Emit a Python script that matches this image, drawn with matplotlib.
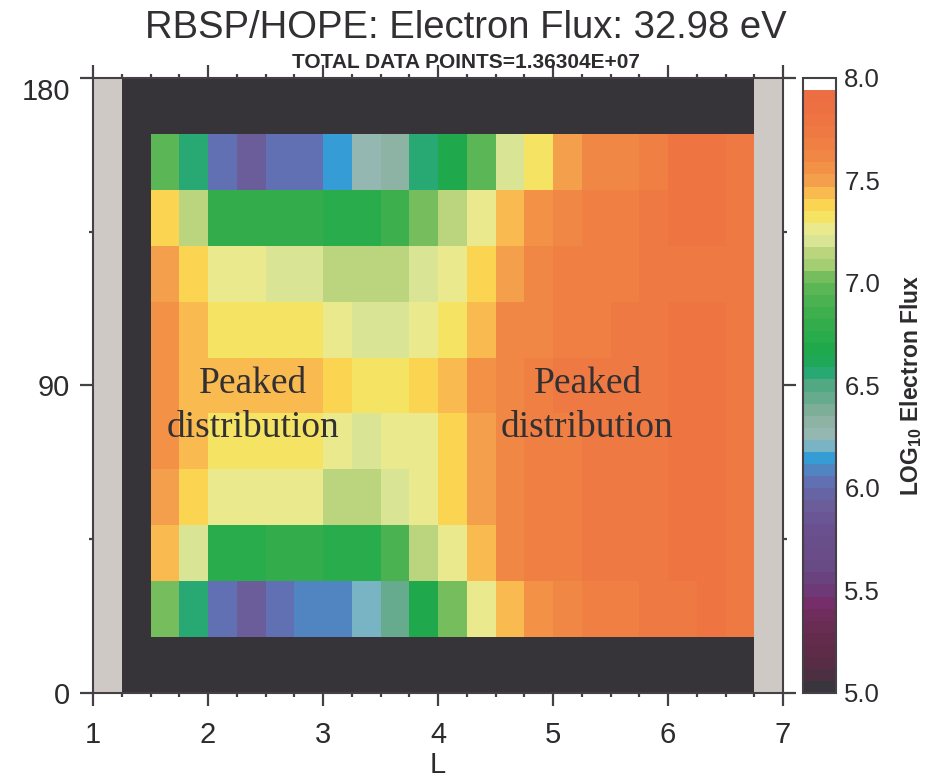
import numpy as np
import matplotlib
matplotlib.use("Agg")
import matplotlib.pyplot as plt
from matplotlib.colors import LinearSegmentedColormap, ListedColormap, Normalize

plt.rcParams['font.family'] = ['Liberation Sans', 'DejaVu Sans']
plt.rcParams['mathtext.fontset'] = 'custom'
plt.rcParams['mathtext.bf'] = 'Liberation Sans:bold'
plt.rcParams['mathtext.rm'] = 'Liberation Sans:bold'

# L-shell bin edges (0.25 wide) and pitch angle bin edges (180/11 wide)
L_edges = [1.25, 1.5, 1.75, 2.0, 2.25, 2.5, 2.75, 3.0, 3.25, 3.5, 3.75, 4.0,
           4.25, 4.5, 4.75, 5.0, 5.25, 5.5, 5.75, 6.0, 6.25, 6.5, 6.75]
pa_edges = [0.0, 16.36, 32.73, 49.09, 65.45, 81.82, 98.18, 114.55, 130.91,
            147.27, 163.64, 180.0]

# log10 electron flux, rows from top (high pitch angle) to bottom,
# columns L = 1.5 ... 6.75 (first L bin 1.25-1.5 and outer PA bins are empty)
flux_rows = [
    [6.95, 6.55, 6.00, 5.90, 6.02, 6.05, 6.15, 6.25, 6.35, 6.55, 6.65, 6.95, 7.20, 7.35, 7.50, 7.60, 7.62, 7.70, 7.80, 7.82, 7.72],
    [7.40, 7.15, 6.78, 6.78, 6.78, 6.78, 6.75, 6.75, 6.85, 7.02, 7.13, 7.26, 7.43, 7.56, 7.64, 7.68, 7.70, 7.73, 7.78, 7.80, 7.72],
    [7.48, 7.40, 7.25, 7.24, 7.23, 7.21, 7.15, 7.15, 7.16, 7.20, 7.27, 7.40, 7.50, 7.60, 7.65, 7.68, 7.70, 7.73, 7.76, 7.76, 7.72],
    [7.55, 7.47, 7.34, 7.34, 7.34, 7.33, 7.26, 7.21, 7.23, 7.26, 7.33, 7.47, 7.60, 7.63, 7.68, 7.70, 7.72, 7.74, 7.77, 7.80, 7.72],
    [7.55, 7.47, 7.45, 7.45, 7.46, 7.46, 7.40, 7.34, 7.34, 7.39, 7.46, 7.55, 7.64, 7.68, 7.71, 7.72, 7.74, 7.76, 7.78, 7.80, 7.72],
    [7.55, 7.47, 7.34, 7.34, 7.34, 7.34, 7.26, 7.21, 7.25, 7.27, 7.40, 7.50, 7.63, 7.68, 7.70, 7.72, 7.74, 7.76, 7.78, 7.80, 7.72],
    [7.48, 7.39, 7.25, 7.24, 7.25, 7.25, 7.13, 7.12, 7.20, 7.25, 7.39, 7.50, 7.62, 7.68, 7.70, 7.72, 7.73, 7.76, 7.78, 7.80, 7.72],
    [7.46, 7.20, 6.75, 6.75, 6.82, 6.78, 6.75, 6.75, 6.93, 7.14, 7.28, 7.46, 7.62, 7.68, 7.70, 7.72, 7.73, 7.75, 7.77, 7.80, 7.72],
    [7.02, 6.55, 6.00, 5.90, 6.03, 6.06, 6.10, 6.23, 6.45, 6.65, 7.02, 7.27, 7.46, 7.55, 7.63, 7.68, 7.70, 7.72, 7.76, 7.80, 7.72],
]

x_ticks = [1, 2, 3, 4, 5, 6, 7]
y_ticks = [0, 90, 180]
cbar_ticks = [5.0, 5.5, 6.0, 6.5, 7.0, 7.5, 8.0]

# colour table (value, colour)
ct_values = [5.00, 5.05, 5.10, 5.25, 5.35, 5.45, 5.50, 5.60, 5.80, 5.90, 6.00,
             6.05, 6.10, 6.15, 6.20, 6.25, 6.35, 6.45, 6.50, 6.55, 6.65, 6.75,
             6.85, 6.95, 7.02, 7.10, 7.15, 7.20, 7.25, 7.30, 7.34, 7.40, 7.46,
             7.50, 7.55, 7.62, 7.70, 7.80, 7.90, 8.00]
ct_colors = ['#38343c', '#3a363e', '#562c42', '#622c4c', '#6c2d58', '#762e6c',
             '#6c3c78', '#684a84', '#6a5090', '#6a5c98', '#6468ac', '#5c78b8',
             '#4a8cc8', '#30a0d8', '#78b4c4', '#96b8b4', '#88b09c', '#60aa8c',
             '#56a884', '#2aa878', '#1aa84c', '#2aac4c', '#3cae4c', '#52b454',
             '#6aba58', '#a8d074', '#b8d47c', '#d4e292', '#e8ea9c', '#ece878',
             '#f8e25c', '#fcd050', '#f8b450', '#f4a04c', '#f49448', '#f08844',
             '#f07c44', '#ee7442', '#ec6e42', '#ec6c40']

vmin, vmax = 5.0, 8.0
nlev = 51
base = LinearSegmentedColormap.from_list(
    'hope', [((v - vmin) / (vmax - vmin), c) for v, c in zip(ct_values, ct_colors)])
centers = (np.arange(nlev) + 0.5) / nlev
cols = base(centers)
cols[-1] = [1.0, 1.0, 1.0, 1.0]
cmap = ListedColormap(cols)
dark = '#363438'
cmap.set_bad(dark)

# pad the data: empty first L bin and empty outermost pitch angle bins
flux = np.full((len(pa_edges) - 1, len(L_edges) - 1), np.nan)
flux[1:-1, 1:] = np.flipud(np.array(flux_rows))
flux = np.ma.masked_invalid(flux)

W, H = 933, 784
fig = plt.figure(figsize=(W / 100, H / 100), dpi=100)
ax = fig.add_axes([93 / W, 91 / H, 690 / W, 615 / H])
cax = fig.add_axes([803 / W, 91 / H, 33 / W, 615 / H])

ax.set_facecolor('#cfc9c5')
mesh = ax.pcolormesh(L_edges, pa_edges, flux, cmap=cmap,
                     norm=Normalize(vmin, vmax), shading='flat',
                     linewidth=0, antialiased=False)

ax.set_xlim(1, 7)
ax.set_ylim(0, 180)
ax.set_xticks(x_ticks)
ax.set_xticks(np.arange(1, 7.01, 0.25), minor=True)
ax.set_yticks(y_ticks)
ax.set_yticks([45, 135], minor=True)
ax.set_yticklabels([str(t) for t in y_ticks])

spine_col = '#454045'
for s in ax.spines.values():
    s.set_color(spine_col)
    s.set_linewidth(1.5)
ax.tick_params(which='both', direction='out', top=True, right=True,
               color=spine_col, width=1.6)
ax.tick_params(which='major', length=9.5, labelsize=21, labelcolor='#2e2b2f')
ax.tick_params(which='minor', length=3)
ax.tick_params(axis='x', which='major', pad=11)
ax.tick_params(axis='y', which='major', pad=7)
ax.get_yticklabels()[-1].set_va('top')
ax.set_xlabel('L', fontsize=21, color='#2e2b2f', labelpad=1)

ax.text(2.39, 84, 'Peaked\ndistribution', family='Liberation Serif',
        fontsize=27, color='#333033', ha='center', va='center',
        linespacing=1.35)
ax.text(5.30, 84, 'Peaked\ndistribution', family='Liberation Serif',
        fontsize=27, color='#333033', ha='center', va='center',
        linespacing=1.35)

cbar = fig.colorbar(mesh, cax=cax, ticks=cbar_ticks)
cbar.ax.set_yticklabels(['%.1f' % t for t in cbar_ticks])
cbar.ax.tick_params(length=0, labelsize=18.5, pad=6, labelcolor='#2e2b2f')
cbar.outline.set_edgecolor(spine_col)
cbar.outline.set_linewidth(1.5)
cbar.set_label(r'LOG$_{\mathbf{10}}$ Electron Flux', fontsize=16.5,
               fontweight='bold', color='#2e2b2f', labelpad=13)

fig.text(466 / W, 1 - 28 / H, 'RBSP/HOPE: Electron Flux: 32.98 eV',
         fontsize=27.5, color='#333033', ha='center', va='center')
fig.text(466 / W, 1 - 62 / H, 'TOTAL DATA POINTS=1.36304E+07',
         fontsize=15, fontweight='bold', color='#2e2b2f',
         ha='center', va='center')

fig.savefig('out.png', dpi=100)
